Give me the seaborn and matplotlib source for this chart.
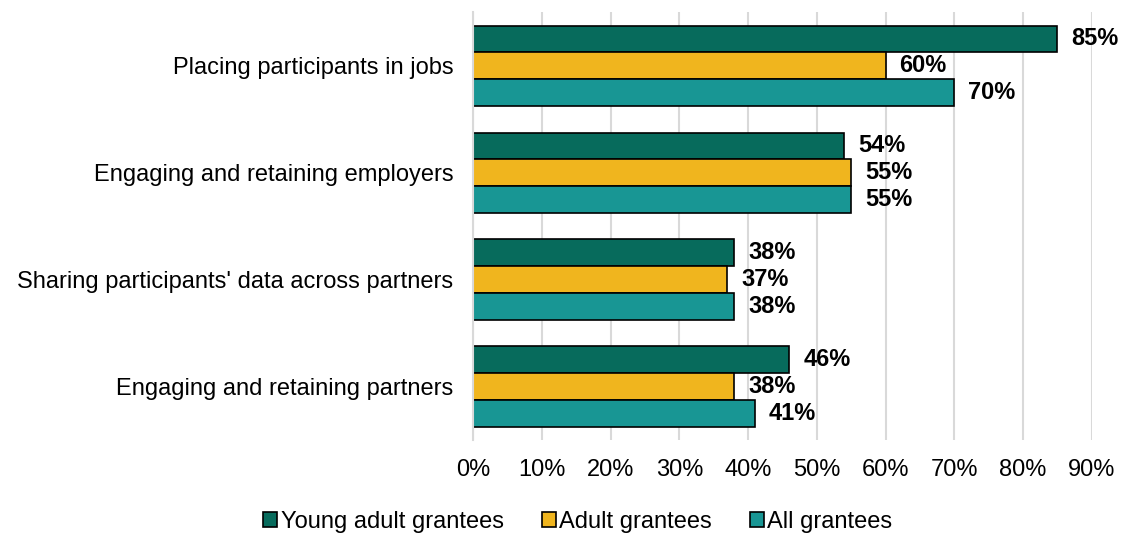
import matplotlib
matplotlib.use("Agg")
import matplotlib.pyplot as plt
import seaborn as sns
import pandas as pd

categories = [
    "Placing participants in jobs",
    "Engaging and retaining employers",
    "Sharing participants' data across partners",
    "Engaging and retaining partners",
]
groups = ["Young adult grantees", "Adult grantees", "All grantees"]
young_adult = [85, 54, 38, 46]
adult = [60, 55, 37, 38]
all_grantees = [70, 55, 38, 41]
x_ticks = [0, 10, 20, 30, 40, 50, 60, 70, 80, 90]

colors = ["#076B5C", "#F0B51E", "#189694"]

rows = []
for g, vals in zip(groups, [young_adult, adult, all_grantees]):
    for c, v in zip(categories, vals):
        rows.append({"Category": c, "Group": g, "Value": v})
df = pd.DataFrame(rows)

sns.set_style("white")
plt.rcParams["font.family"] = ["Liberation Sans", "DejaVu Sans"]
plt.rcParams["text.color"] = "black"

fig = plt.figure(figsize=(11.22, 5.33), dpi=100)
ax = fig.add_axes([0.4216, 0.1745, 0.5515, 0.8025])

sns.barplot(data=df, y="Category", x="Value", hue="Group", order=categories,
            hue_order=groups, palette=colors, saturation=1, orient="h", width=0.75,
            edgecolor="black", linewidth=1.2, ax=ax, legend=True)

for cont in ax.containers:
    ax.bar_label(cont, labels=[f"{int(v)}%" for v in cont.datavalues],
                 padding=10, fontsize=17, fontweight="bold", color="black")

ax.set_xlim(0, 90)
ax.set_ylim(3.5, -0.5)
ax.set_xticks(x_ticks)
ax.set_xticklabels([f"{t}%" for t in x_ticks], fontsize=17)
ax.tick_params(axis="y", labelsize=17, length=0, pad=14, labelcolor="black")
ax.tick_params(axis="x", length=0, pad=14, labelcolor="black")
ax.set_xlabel("")
ax.set_ylabel("")
ax.grid(axis="x", color="#D9D9D9", linewidth=1.5)
ax.set_axisbelow(True)
for s in ["top", "right", "bottom"]:
    ax.spines[s].set_visible(False)
ax.spines["left"].set_color("#D9D9D9")
ax.spines["left"].set_linewidth(1.5)

ax.legend_.remove()
handles = [plt.Rectangle((0, 0), 1, 1, facecolor=c, edgecolor="black", linewidth=1.2) for c in colors]
fig.legend(handles, groups, loc="lower center", bbox_to_anchor=(0.515, -0.04), ncol=3,
           frameon=False, fontsize=17, handlelength=0.6, handleheight=0.6,
           handletextpad=0.15, columnspacing=1.6)

fig.savefig("out.png", dpi=100)
